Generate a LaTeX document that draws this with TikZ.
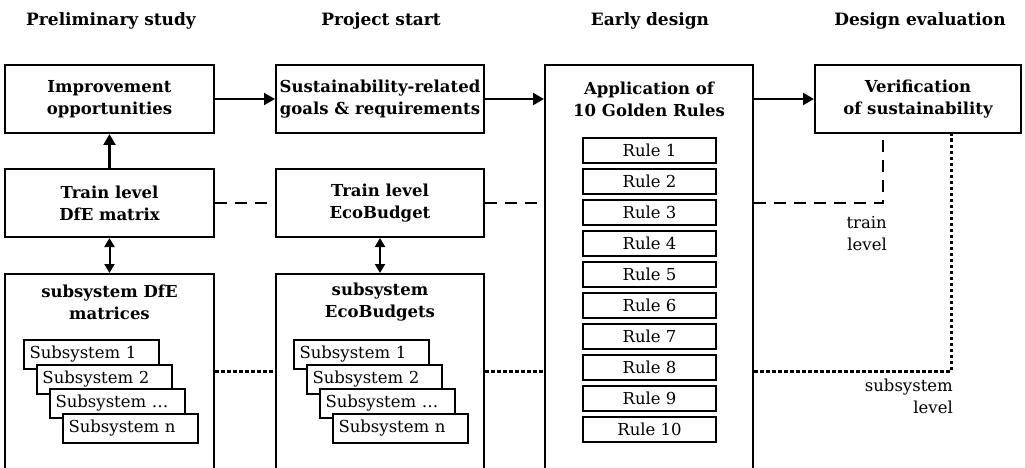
\documentclass[tikz,border=0pt]{standalone}
\usepackage{fontspec}
\setmainfont{DejaVu Serif}
\usetikzlibrary{arrows.meta}
\begin{document}
\begin{tikzpicture}[x=1pt,y=-1pt,
  txt/.style={font=\fontsize{16.5}{22}\selectfont, inner sep=0pt},
  head/.style={font=\bfseries\fontsize{17}{21}\selectfont, inner sep=0pt},
  box/.style={draw, line width=2pt, inner sep=0pt, align=center,
    font=\bfseries\fontsize{16.5}{22}\selectfont},
  title/.style={inner sep=0pt, align=center, font=\bfseries\fontsize{16.5}{22}\selectfont},
  rulebox/.style={draw, line width=2pt, inner sep=0pt, minimum width=133pt,
    minimum height=25pt, font=\fontsize{16.5}{18}\selectfont},
  subbox/.style={draw, fill=white, line width=2pt, inner sep=0pt, anchor=north west,
    minimum width=135pt, minimum height=29pt, text width=126pt, align=left,
    font=\fontsize{16.5}{18}\selectfont},
  flow/.style={line width=2.2pt, -{Triangle[length=11pt,width=12pt]}},
  both/.style={line width=2pt, {Triangle[length=9pt,width=10pt]}-{Triangle[length=9pt,width=10pt]}},
  trainlink/.style={line width=1.6pt, dash pattern=on 12pt off 8pt},
  sublink/.style={line width=3pt, dash pattern=on 3.5pt off 2.5pt}
]
\useasboundingbox (0,0) rectangle (1025,468);
\clip (0,0) rectangle (1025,468);

% column headings
\node[head] (h1) at (111,21) {Preliminary study};
\node[head] (h2) at (381,21) {Project start};
\node[head] (h3) at (650,21) {Early design};
\node[head] (h4) at (920,21) {Design evaluation};

% top row
\node[box, minimum width=209pt, minimum height=68pt] (imp) at (109.5,99) {Improvement\\opportunities};
\node[box, minimum width=208pt, minimum height=68pt] (sus) at (380,99) {Sustainability-related\\goals \& requirements};
\node[box, minimum width=208pt, minimum height=420pt] (app) at (649,275) {};
\node[title] (appt) at (649,99) {Application of\\10 Golden Rules};
\node[box, minimum width=206pt, minimum height=68pt] (ver) at (918,99) {Verification\\of sustainability};

% train level
\node[box, minimum width=209pt, minimum height=68pt] (dfe) at (109.5,203) {Train level\\DfE matrix};
\node[box, minimum width=208pt, minimum height=68pt] (eco) at (380,203) {Train level\\EcoBudget};

% subsystem level (open towards the bottom)
\node[box, minimum width=209pt, minimum height=212pt] (sdfe) at (109.5,380) {};
\node[title] (sdfet) at (109.5,302.5) {subsystem DfE\\matrices};
\node[box, minimum width=208pt, minimum height=212pt] (seco) at (380,380) {};
\node[title] (secot) at (380,302.5) {subsystem\\EcoBudgets};

% the ten golden rules
\foreach \i in {1,...,10} {
  \node[rulebox] (r\i) at (649.5,{150.5+31*(\i-1)}) {Rule \i};
}

% stacked subsystem sheets
\foreach \j/\lab in {0/1,1/2,2/{\dots},3/n} {
  \node[subbox] (a\j) at ({23+13*\j},{339+24.5*\j}) {\hspace*{1pt}Subsystem \lab};
  \node[subbox] (b\j) at ({293+13*\j},{339+24.5*\j}) {\hspace*{1pt}Subsystem \lab};
}

% main flow
\draw[flow] (imp.east) -- (sus.west);
\draw[flow] (sus.east) -- (app.west |- sus.east);
\draw[flow] (app.east |- ver.west) -- (ver.west);
\draw[flow] (dfe.north) -- (imp.south);
\draw[both] (dfe.south) -- (sdfe.north);
\draw[both] (eco.south) -- (seco.north);

% train level link
\coordinate (tl) at (883,203);
\draw[trainlink] (dfe.east) -- (eco.west);
\draw[trainlink] (eco.east) -- (app.west |- eco.east);
\draw[trainlink] (app.east |- tl) -- (tl) -- (tl |- ver.south);
\node[txt, align=right, anchor=east] (tll) at (887,234) {train\\level};

% subsystem level link
\coordinate (sl) at (951,371);
\draw[sublink] (sdfe.east |- sl) -- (seco.west |- sl);
\draw[sublink] (seco.east |- sl) -- (app.west |- sl);
\draw[sublink] (app.east |- sl) -- (sl) -- (sl |- ver.south);
\node[txt, align=right, anchor=east] (sll) at (953,396.5) {subsystem\\level};
\end{tikzpicture}
\end{document}
